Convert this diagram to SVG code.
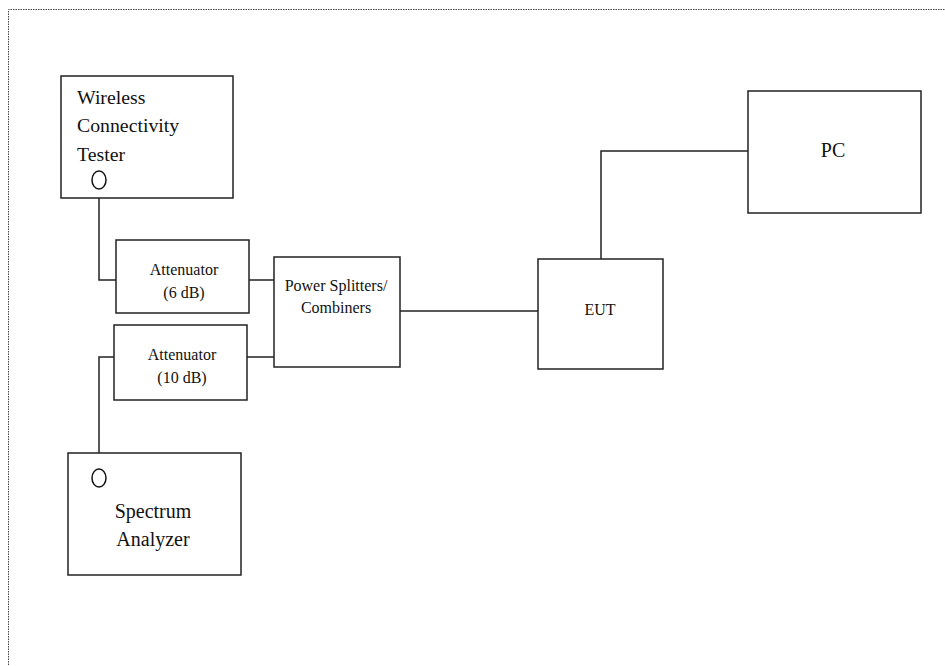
<svg xmlns="http://www.w3.org/2000/svg" width="945" height="666" viewBox="0 0 945 666">
<style>
.box{fill:#fff;stroke:#222;stroke-width:1.5}
.ln{fill:none;stroke:#222;stroke-width:1.5}
.port{fill:#fff;stroke:#111;stroke-width:1.5}
text{font-family:"Liberation Serif","Times New Roman",serif;fill:#111}
.big{font-size:19.8px}
.sm{font-size:16px;text-anchor:middle}
.mid{font-size:20px;text-anchor:middle}
.frame{fill:none;stroke:#444;stroke-width:1;stroke-dasharray:1.5 1}
</style>
<rect width="945" height="666" fill="#fff"/>
<path class="frame" d="M8.5 700 V9.5 H960"/>
<g id="connectors">
<path class="ln" d="M99 189 V280 H116"/>
<path class="ln" d="M249 280 H274"/>
<path class="ln" d="M247 357 H274"/>
<path class="ln" d="M114 357 H99 V469"/>
<path class="ln" d="M400 311 H538"/>
<path class="ln" d="M601 259 V151 H748"/>
</g>
<g id="wireless-tester">
<rect class="box" x="61" y="76" width="172" height="122"/>
<text class="big" x="77" y="104">Wireless</text>
<text class="big" x="77" y="132">Connectivity</text>
<text class="big" x="77" y="161">Tester</text>
<ellipse class="port" cx="99" cy="180" rx="7" ry="9"/>
</g>
<g id="attenuator-6">
<rect class="box" x="116" y="240" width="133" height="73"/>
<text class="sm" x="184" y="275">Attenuator</text>
<text class="sm" x="184" y="298">(6 dB)</text>
</g>
<g id="attenuator-10">
<rect class="box" x="114" y="325" width="133" height="75"/>
<text class="sm" x="182" y="360">Attenuator</text>
<text class="sm" x="182" y="383">(10 dB)</text>
</g>
<g id="power-splitter">
<rect class="box" x="274" y="257" width="126" height="110"/>
<text class="sm" x="336" y="291">Power Splitters/</text>
<text class="sm" x="336" y="313">Combiners</text>
</g>
<g id="spectrum-analyzer">
<rect class="box" x="68" y="453" width="173" height="122"/>
<ellipse class="port" cx="99" cy="478" rx="7" ry="9"/>
<text class="mid" x="153" y="518">Spectrum</text>
<text class="mid" x="153" y="546">Analyzer</text>
</g>
<g id="eut">
<rect class="box" x="538" y="259" width="125" height="110"/>
<text class="mid" x="600" y="315" style="font-size:16px">EUT</text>
</g>
<g id="pc">
<rect class="box" x="748" y="91" width="173" height="122"/>
<text class="mid" x="833" y="157">PC</text>
</g>
</svg>
